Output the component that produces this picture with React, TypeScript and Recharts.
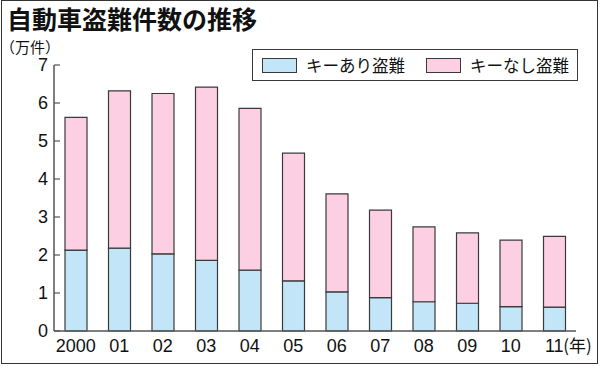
import React from "react";
import { BarChart, Bar, XAxis, YAxis } from "recharts";

const years = ["2000", "01", "02", "03", "04", "05", "06", "07", "08", "09", "10", "11"];
const withKey = [2.13, 2.18, 2.03, 1.86, 1.6, 1.32, 1.03, 0.88, 0.77, 0.73, 0.64, 0.63];
const withoutKey = [3.49, 4.14, 4.22, 4.56, 4.26, 3.36, 2.58, 2.3, 1.97, 1.85, 1.75, 1.86];
const yTicks = [0, 1, 2, 3, 4, 5, 6, 7];

const title = "自動車盗難件数の推移";
const unitLabel = "（万件）";
const yearUnit = "(年)";
const seriesNames = ["キーあり盗難", "キーなし盗難"];

const BLUE = "#c2e6f8";
const PINK = "#fcd0e2";
const STROKE = "#3a3a3a";
const NUM_FONT = "'Liberation Sans Narrow', 'Liberation Sans', Arial, sans-serif";
const CJK_FONT = "'Noto Sans CJK JP', 'Noto Sans', sans-serif";

const data = years.map((y, i) => ({ year: y, withKey: withKey[i], withoutKey: withoutKey[i] }));

const XTick = (props: any) => {
  const { x, y, payload, index } = props;
  const isLast = index === years.length - 1;
  return (
    <g>
      <text x={x} y={y} dy="0.71em" textAnchor="middle" fontFamily={NUM_FONT} fontSize={18} fill="#111">
        {payload.value}
      </text>
      {isLast && (
        <text x={x + 9} y={y - 1} dy="0.8em" textAnchor="start" fontFamily={CJK_FONT} fontSize={17} fill="#111">
          {yearUnit}
        </text>
      )}
    </g>
  );
};

const YTick = (props: any) => {
  const { x, y, payload } = props;
  return (
    <text x={x} y={y} dy="0.36em" textAnchor="end" fontFamily={NUM_FONT} fontSize={18} fill="#111">
      {payload.value}
    </text>
  );
};

const LegendItem = ({ color, label }: { color: string; label: string }) => (
  <div style={{ display: "flex", alignItems: "center" }}>
    <div style={{ width: 33, height: 13, background: color, border: `1px solid ${STROKE}`, marginRight: 9 }} />
    <span style={{ fontFamily: CJK_FONT, fontSize: 16.5, color: "#111", lineHeight: "17px" }}>{label}</span>
  </div>
);

export default function App() {
  return (
    <div style={{ position: "absolute", left: 0, top: 0, width: 600, height: 366, background: "#fff", overflow: "hidden" }}>
      <div
        style={{
          position: "absolute",
          left: 1,
          top: 0,
          width: 597,
          height: 364,
          boxSizing: "border-box",
          border: "1.5px solid #333",
        }}
      />
      <div
        style={{
          position: "absolute",
          left: 7,
          top: 2,
          fontFamily: CJK_FONT,
          fontWeight: 700,
          fontSize: 25,
          lineHeight: "32px",
          color: "#111",
          whiteSpace: "nowrap",
        }}
      >
        {title}
      </div>
      <div
        style={{
          position: "absolute",
          left: 0,
          top: 37,
          fontFamily: CJK_FONT,
          fontSize: 15,
          lineHeight: "20px",
          color: "#111",
          whiteSpace: "nowrap",
        }}
      >
        {unitLabel}
      </div>
      <div style={{ position: "absolute", left: 0, top: 0 }}>
        <BarChart
          width={600}
          height={366}
          data={data}
          margin={{ top: 65, right: 24, bottom: 0, left: 0 }}
          barSize={22}
        >
          <XAxis
            dataKey="year"
            height={35}
            tickLine={false}
            tickSize={6}
            tickMargin={2}
            axisLine={{ stroke: "#555", strokeWidth: 1.5 }}
            tick={<XTick />}
            interval={0}
          />
          <YAxis
            width={54}
            domain={[0, 7]}
            ticks={yTicks}
            interval={0}
            tickSize={6}
            tickMargin={0}
            axisLine={{ stroke: "#555", strokeWidth: 1.5 }}
            tickLine={{ stroke: "#555", strokeWidth: 1.2, transform: "translate(6,0)" }}
            tick={<YTick />}
          />
          <Bar dataKey="withKey" stackId="a" fill={BLUE} stroke={STROKE} strokeWidth={1.2} isAnimationActive={false} />
          <Bar dataKey="withoutKey" stackId="a" fill={PINK} stroke={STROKE} strokeWidth={1.2} isAnimationActive={false} />
        </BarChart>
      </div>
      <div
        style={{
          position: "absolute",
          left: 252,
          top: 49,
          width: 326,
          height: 32,
          boxSizing: "border-box",
          border: `1.2px solid ${STROKE}`,
          background: "#fff",
          display: "flex",
          alignItems: "center",
          paddingLeft: 9,
          gap: 21,
        }}
      >
        <LegendItem color={BLUE} label={seriesNames[0]} />
        <LegendItem color={PINK} label={seriesNames[1]} />
      </div>
    </div>
  );
}
